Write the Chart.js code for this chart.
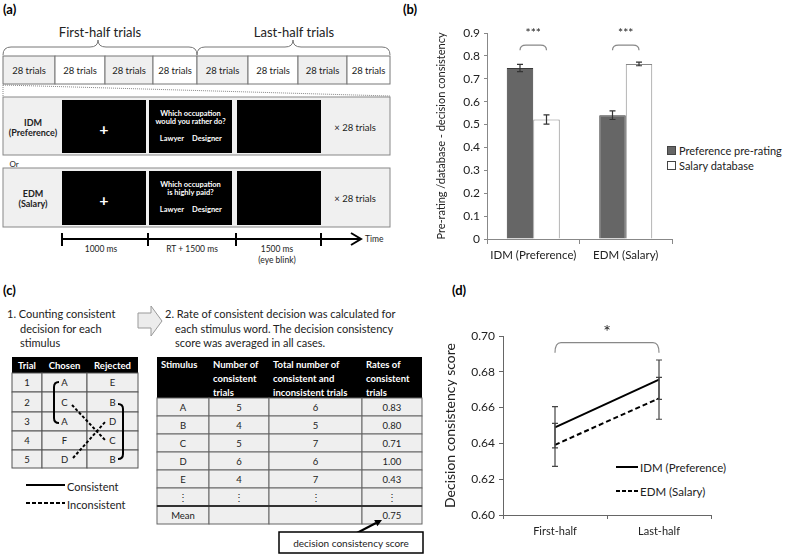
<!DOCTYPE html>
<html>
<head>
<meta charset="utf-8">
<script src="https://cdn.jsdelivr.net/npm/chart.js@4.4.1/dist/chart.umd.min.js"></script>
<style>
  body { margin: 0; background: #fff; }
  #wrap { position: relative; width: 787px; height: 555px; overflow: hidden; background: #fff; font-family: Lato, "Open Sans", sans-serif; }
  #diagram { position: absolute; left: 0; top: 0; }
  .box { position: absolute; }
</style>
</head>
<body>
<div id="wrap">
  <svg id="diagram" width="787" height="555" font-family="Lato, 'Open Sans', sans-serif"></svg>
  <div class="box" style="left:395px;top:18px"><canvas id="barChart" width="392" height="250"></canvas></div>
  <div class="box" style="left:428px;top:300px"><canvas id="lineChart" width="300" height="245"></canvas></div>
</div>
<script>
// panel (b)
var barCategories = ["IDM (Preference)", "EDM (Salary)"];
var preferenceLabel = "Preference pre-rating";
var preferenceValues = [0.747, 0.541];
var preferenceErrors = [0.016, 0.019];
var salaryLabel = "Salary database";
var salaryValues = [0.522, 0.765];
var salaryErrors = [0.020, 0.008];
var barAxisTitle = "Pre-rating /database - decision consistency";

// panel (d)
var lineCategories = ["First-half", "Last-half"];
var idmLabel = "IDM (Preference)";
var idmValues = [0.649, 0.6756];
var idmErrors = [0.0115, 0.011];
var edmLabel = "EDM (Salary)";
var edmValues = [0.6392, 0.6652];
var edmErrors = [0.012, 0.0117];
var lineAxisTitle = "Decision consistency score";

// panel (c) tables
var trialRows = [["1", "A", "E"], ["2", "C", "B"], ["3", "A", "D"], ["4", "F", "C"], ["5", "D", "B"]];
var stimulusRows = [
    ["A", "5", "6", "0.83"],
    ["B", "4", "5", "0.80"],
    ["C", "5", "7", "0.71"],
    ["D", "6", "6", "1.00"],
    ["E", "4", "7", "0.43"],
    ["\u22EE", "\u22EE", "\u22EE", "\u22EE"],
    ["Mean", "", "", "0.75"]
];

var NS = "http://www.w3.org/2000/svg";
var svg = document.getElementById("diagram");

function el(tag, attrs, text) {
    var e = document.createElementNS(NS, tag);
    for (var k in attrs) e.setAttribute(k, attrs[k]);
    if (text !== undefined) e.textContent = text;
    svg.appendChild(e);
    return e;
}
function txt(x, y, s, size, extra) {
    var a = { x: x, y: y, "font-size": size, "dominant-baseline": "central", fill: "#222" };
    for (var k in (extra || {})) a[k] = extra[k];
    return el("text", a, s);
}
function mid(x, y, s, size, extra) {
    var a = { "text-anchor": "middle" };
    for (var k in (extra || {})) a[k] = extra[k];
    return txt(x, y, s, size, a);
}
function line(x1, y1, x2, y2, attrs) {
    var a = { x1: x1, y1: y1, x2: x2, y2: y2, stroke: "#000", "stroke-width": 1 };
    for (var k in (attrs || {})) a[k] = attrs[k];
    return el("line", a);
}

// ---------- (a)
txt(3, 9, "(a)", 13, { "font-weight": "bold", fill: "#000" });
txt(3, 290, "(c)", 13, { "font-weight": "bold", fill: "#000" });
txt(403, 9, "(b)", 13, { "font-weight": "bold", fill: "#000" });
txt(452, 290, "(d)", 13, { "font-weight": "bold", fill: "#000" });

mid(100, 32, "First-half trials", 13);
mid(294, 32, "Last-half trials", 13);
el("path", { d: "M3,55 Q3,47 11,47 L90,47 Q98,47 98,40 Q98,47 106,47 L189,47 Q197,47 197,55", fill: "none", stroke: "#777" });
el("path", { d: "M197,55 Q197,47 205,47 L285,47 Q293,47 293,40 Q293,47 301,47 L382,47 Q390,47 390,55", fill: "none", stroke: "#777" });

var blockX = [3, 55, 105, 153, 197, 248, 298, 347, 390];
for (var i = 0; i < 8; i++) {
    el("rect", { x: blockX[i], y: 56, width: blockX[i + 1] - blockX[i], height: 28, fill: i % 2 === 0 ? "#efefef" : "#fff", stroke: "#777" });
    mid((blockX[i] + blockX[i + 1]) / 2, 70, "28 trials", 9.5);
}
line(3, 85, 3, 97, { stroke: "#888", "stroke-dasharray": "1,1" });
line(3, 85, 390, 96, { stroke: "#888", "stroke-dasharray": "1,1" });

function trialPanel(top, h, name, cond, question) {
    el("rect", { x: 3, y: top, width: 387, height: h, fill: "#f0f0f0", stroke: "#888" });
    var bt = top + 3, bh = h - 5;
    el("rect", { x: 62, y: bt, width: 84, height: bh, fill: "#000" });
    el("rect", { x: 149, y: bt, width: 83, height: bh, fill: "#000" });
    el("rect", { x: 237, y: bt, width: 84, height: bh, fill: "#000" });
    var c = top + h / 2;
    mid(33, c - 4, name, 9, { "font-weight": "bold" });
    mid(33, c + 6, cond, 9, { "font-weight": "bold" });
    mid(104, c + 2, "+", 16, { "font-weight": "bold", fill: "#fff" });
    mid(190.5, c - 13, question[0], 7.5, { "font-weight": "bold", fill: "#fff" });
    mid(190.5, c - 5, question[1], 7.5, { "font-weight": "bold", fill: "#fff" });
    mid(172, c + 12, "Lawyer", 7.5, { "font-weight": "bold", fill: "#fff" });
    mid(207, c + 12, "Designer", 7.5, { "font-weight": "bold", fill: "#fff" });
    mid(355, c + 1, "\u00D7 28 trials", 9.5);
}
trialPanel(97, 58, "IDM", "(Preference)", ["Which occupation", "would you rather do?"]);
mid(14, 164, "Or", 8);
trialPanel(168, 59, "EDM", "(Salary)", ["Which occupation", "is highly paid?"]);

line(62, 239, 360, 239, { "stroke-width": 2 });
[62, 148, 236, 321].forEach(function (x) { line(x, 233, x, 246, { "stroke-width": 2 }); });
el("path", { d: "M351,233 L361,239 L351,245", fill: "none", stroke: "#000", "stroke-width": 2 });
txt(365, 239, "Time", 8.5);
mid(101, 249, "1000 ms", 8.5);
mid(192, 249, "RT + 1500 ms", 8.5);
mid(277, 249, "1500 ms", 8.5);
mid(277, 260, "(eye blink)", 8.5);

// ---------- (c)
txt(7, 313, "1. Counting consistent", 11);
txt(20, 328, "decision for each", 11);
txt(20, 342, "stimulus", 11);
el("polygon", { points: "138,313 151,313 151,306 162,321 151,336 151,328 138,328", fill: "#ececec", stroke: "#999" });
txt(165, 313, "2. Rate of consistent decision was calculated for", 11);
txt(175, 328, "each stimulus word. The decision consistency", 11);
txt(175, 342, "score was averaged in all cases.", 11);

var tCols = [12, 42, 87, 138];
var tRowsY = [373, 392, 412, 431, 450, 468];
el("rect", { x: 12, y: 357, width: 126, height: 16, fill: "#000" });
["Trial", "Chosen", "Rejected"].forEach(function (h, j) {
    mid((tCols[j] + tCols[j + 1]) / 2, 365, h, 9.5, { "font-weight": "bold", fill: "#fff" });
});
trialRows.forEach(function (r, i) {
    for (var j = 0; j < 3; j++) {
        el("rect", { x: tCols[j], y: tRowsY[i], width: tCols[j + 1] - tCols[j], height: tRowsY[i + 1] - tRowsY[i], fill: "#efefef", stroke: "#555" });
        mid((tCols[j] + tCols[j + 1]) / 2, (tRowsY[i] + tRowsY[i + 1]) / 2, r[j], 9.5);
    }
});
el("path", { d: "M59,382 Q54,382 54,387 L54,418 Q54,423 59,423", fill: "none", stroke: "#000", "stroke-width": 2 });
el("path", { d: "M118,404 Q123,404 123,409 L123,454 Q123,459 118,459", fill: "none", stroke: "#000", "stroke-width": 2 });
line(72, 405, 105, 440, { "stroke-width": 2, "stroke-dasharray": "3,2" });
line(73, 458, 106, 421, { "stroke-width": 2, "stroke-dasharray": "3,2" });
line(26, 485, 65, 485, { "stroke-width": 2 });
txt(67, 486, "Consistent", 11);
line(26, 503, 65, 503, { "stroke-width": 2, "stroke-dasharray": "4,2" });
txt(67, 504, "Inconsistent", 11);

var sCols = [157, 209, 269, 362, 422];
var sRowsY = [398, 416, 434, 452, 470, 488, 506, 524];
el("rect", { x: 157, y: 357, width: 265, height: 41, fill: "#000" });
var sHead = [["Stimulus"], ["Number of", "consistent", "trials"], ["Total number of", "consistent and", "inconsistent trials"], ["Rates of", "consistent", "trials"]];
sHead.forEach(function (lines, j) {
    lines.forEach(function (s, k) {
        txt(sCols[j] + 4, 364 + k * 14, s, 9.5, { "font-weight": "bold", fill: "#fff" });
    });
});
stimulusRows.forEach(function (r, i) {
    for (var j = 0; j < 4; j++) {
        el("rect", { x: sCols[j], y: sRowsY[i], width: sCols[j + 1] - sCols[j], height: sRowsY[i + 1] - sRowsY[i], fill: "#efefef", stroke: "#666" });
        mid((sCols[j] + sCols[j + 1]) / 2, (sRowsY[i] + sRowsY[i + 1]) / 2, r[j], 9.5);
    }
});
line(157, 506, 422, 506, { "stroke-width": 2, stroke: "#333" });
line(353, 535, 376, 523, { "stroke-width": 2 });
el("polygon", { points: "382,520 377.4,526.3 374.2,520.1", fill: "#000" });
el("rect", { x: 279, y: 532, width: 144, height: 21, fill: "#fff", stroke: "#000", "stroke-width": 1.5 });
mid(351, 543, "decision consistency score", 10);

// legends of (b) and (d)
el("rect", { x: 667.5, y: 146.5, width: 8, height: 8, fill: "#666", stroke: "#444" });
txt(679, 150, preferenceLabel, 11);
el("rect", { x: 667.5, y: 161.5, width: 8, height: 8, fill: "#fff", stroke: "#444" });
txt(679, 165, salaryLabel, 11);
line(616, 467, 638, 467, { "stroke-width": 2 });
txt(640, 467, idmLabel, 11.5);
line(616, 491, 638, 491, { "stroke-width": 2, "stroke-dasharray": "4,2" });
txt(640, 491, edmLabel, 11.5);

// ---------- charts
Chart.defaults.font.family = "Lato, 'Open Sans', sans-serif";
Chart.defaults.color = "#222";

var errorBars = {
    id: "errorBars",
    afterDatasetsDraw: function (chart, args, opts) {
        var ctx = chart.ctx, y = chart.scales.y;
        chart.data.datasets.forEach(function (ds, i) {
            chart.getDatasetMeta(i).data.forEach(function (pt, j) {
                var top = y.getPixelForValue(ds.data[j] + ds.errors[j]);
                var bot = y.getPixelForValue(ds.data[j] - ds.errors[j]);
                ctx.save();
                ctx.strokeStyle = opts.color;
                ctx.lineWidth = opts.width;
                ctx.beginPath();
                ctx.moveTo(pt.x, top); ctx.lineTo(pt.x, bot);
                ctx.moveTo(pt.x - opts.cap, top); ctx.lineTo(pt.x + opts.cap, top);
                ctx.moveTo(pt.x - opts.cap, bot); ctx.lineTo(pt.x + opts.cap, bot);
                ctx.stroke();
                ctx.restore();
            });
        });
    }
};

var brackets = {
    id: "brackets",
    afterDatasetsDraw: function (chart, args, opts) {
        var ctx = chart.ctx, y = chart.scales.y;
        opts.items.forEach(function (b) {
            var x1 = chart.getDatasetMeta(b.from[0]).data[b.from[1]].x;
            var x2 = chart.getDatasetMeta(b.to[0]).data[b.to[1]].x;
            var yt = y.getPixelForValue(b.top), yf = y.getPixelForValue(b.foot);
            ctx.save();
            ctx.strokeStyle = "#888";
            ctx.lineWidth = 1.2;
            ctx.beginPath();
            ctx.moveTo(x1, yf);
            ctx.quadraticCurveTo(x1, yt, x1 + 6, yt);
            ctx.lineTo(x2 - 6, yt);
            ctx.quadraticCurveTo(x2, yt, x2, yf);
            ctx.stroke();
            ctx.fillStyle = "#222";
            ctx.font = opts.font;
            ctx.textAlign = "center";
            ctx.textBaseline = "middle";
            ctx.fillText(b.text, (x1 + x2) / 2, y.getPixelForValue(b.textAt));
            ctx.restore();
        });
    }
};

new Chart(document.getElementById("barChart").getContext("2d"), {
    type: "bar",
    data: {
        labels: barCategories,
        datasets: [
            { label: preferenceLabel, data: preferenceValues, errors: preferenceErrors, backgroundColor: "#666666", borderColor: "#3a3a3a", borderWidth: 1 },
            { label: salaryLabel, data: salaryValues, errors: salaryErrors, backgroundColor: "#ffffff", borderColor: "#888888", borderWidth: 1 }
        ]
    },
    options: {
        responsive: false,
        animation: false,
        categoryPercentage: 0.573,
        barPercentage: 1,
        layout: { padding: { left: 37, top: 15, right: 115, bottom: 0 } },
        plugins: {
            legend: { display: false },
            tooltip: { enabled: false },
            errorBars: { color: "#333", width: 1.2, cap: 3 },
            brackets: {
                font: "12px Lato",
                items: [
                    { from: [0, 0], to: [1, 0], top: 0.847, foot: 0.825, textAt: 0.9, text: "***" },
                    { from: [0, 1], to: [1, 1], top: 0.847, foot: 0.825, textAt: 0.9, text: "***" }
                ]
            }
        },
        scales: {
            x: {
                grid: { drawOnChartArea: false, drawTicks: true, tickLength: 5, color: "#888", offset: true },
                border: { color: "#888" },
                ticks: { font: { size: 11.5 }, padding: 4 },
                afterFit: function (s) { s.height = 29; }
            },
            y: {
                min: 0, max: 0.9,
                ticks: { stepSize: 0.1, font: { size: 12 }, padding: 4, callback: function (v) { return v === 0 ? "0" : v.toFixed(1); } },
                grid: { drawOnChartArea: false, drawTicks: true, tickLength: 3, color: "#888" },
                border: { color: "#888" },
                title: { display: true, text: barAxisTitle, font: { size: 11 }, padding: { top: 3, bottom: 0 } },
                afterFit: function (s) { s.width = 55; }
            }
        }
    },
    plugins: [errorBars, brackets]
});

new Chart(document.getElementById("lineChart").getContext("2d"), {
    type: "line",
    data: {
        labels: lineCategories,
        datasets: [
            { label: idmLabel, data: idmValues, errors: idmErrors, borderColor: "#000", borderWidth: 2, pointRadius: 0, tension: 0 },
            { label: edmLabel, data: edmValues, errors: edmErrors, borderColor: "#000", borderWidth: 2, borderDash: [5, 3], pointRadius: 0, tension: 0 }
        ]
    },
    options: {
        responsive: false,
        animation: false,
        layout: { padding: { left: 10, top: 36, right: 17, bottom: 0 } },
        plugins: {
            legend: { display: false },
            tooltip: { enabled: false },
            errorBars: { color: "#444", width: 1.2, cap: 3 },
            brackets: {
                font: "18px Lato",
                items: [{ from: [0, 0], to: [0, 1], top: 0.6963, foot: 0.6907, textAt: 0.7022, text: "*" }]
            }
        },
        scales: {
            x: {
                offset: true,
                grid: { drawOnChartArea: false, drawTicks: true, tickLength: 4, color: "#666", offset: true },
                border: { color: "#666" },
                ticks: { font: { size: 11 }, padding: 6 },
                afterFit: function (s) { s.height = 30; }
            },
            y: {
                min: 0.6, max: 0.7,
                ticks: { stepSize: 0.02, font: { size: 12 }, padding: 4, callback: function (v) { return v.toFixed(2); } },
                grid: { drawOnChartArea: false, drawTicks: true, tickLength: 4, color: "#666" },
                border: { color: "#666" },
                title: { display: true, text: lineAxisTitle, font: { size: 14 }, padding: { top: 4, bottom: 0 } },
                afterFit: function (s) { s.width = 65; }
            }
        }
    },
    plugins: [errorBars, brackets]
});
</script>
</body>
</html>
